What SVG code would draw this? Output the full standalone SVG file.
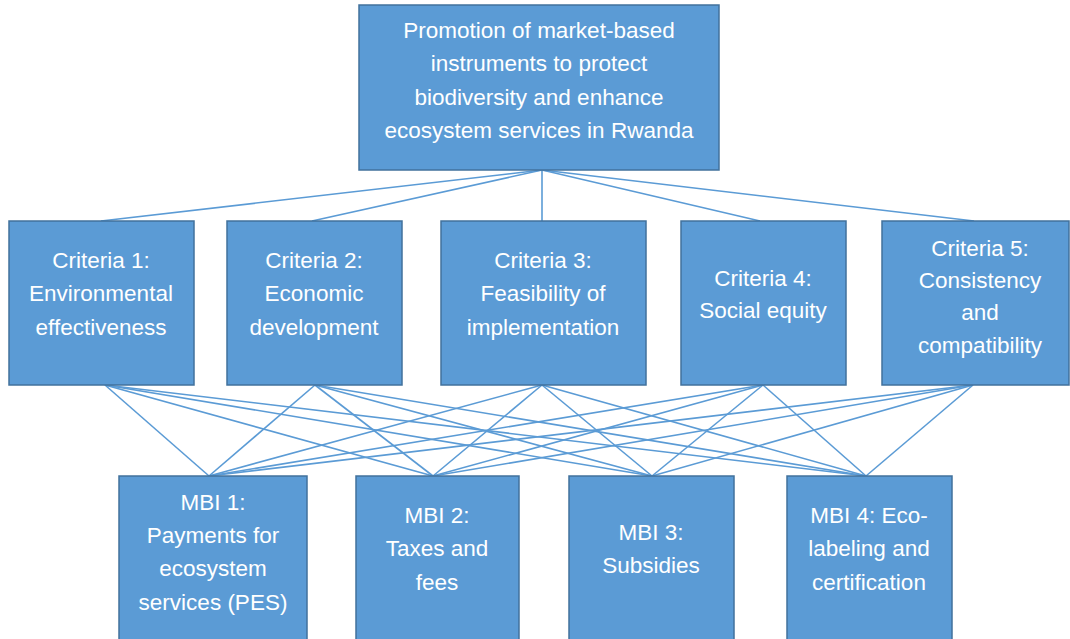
<svg xmlns="http://www.w3.org/2000/svg" width="1070" height="639" viewBox="0 0 1070 639">
<style>
.box{fill:#5b9bd5;stroke:#41719c;stroke-width:1.5}
.t{font-family:"Liberation Sans",Arial,sans-serif;font-size:22.5px;fill:#ffffff;text-anchor:middle}
.c line{stroke:#5b9bd5;stroke-width:1.6}
</style>
<rect width="1070" height="639" fill="#ffffff"/>
<g class="c" id="connectors">
<line x1="542" y1="170" x2="101" y2="221"/>
<line x1="542" y1="170" x2="312" y2="221"/>
<line x1="542" y1="170" x2="542" y2="221"/>
<line x1="542" y1="170" x2="760" y2="221"/>
<line x1="542" y1="170" x2="974" y2="221"/>
<line x1="105" y1="385" x2="209" y2="476"/>
<line x1="105" y1="385" x2="433" y2="476"/>
<line x1="105" y1="385" x2="652" y2="476"/>
<line x1="105" y1="385" x2="866" y2="476"/>
<line x1="315" y1="385" x2="209" y2="476"/>
<line x1="315" y1="385" x2="433" y2="476"/>
<line x1="315" y1="385" x2="652" y2="476"/>
<line x1="315" y1="385" x2="866" y2="476"/>
<line x1="542" y1="385" x2="209" y2="476"/>
<line x1="542" y1="385" x2="433" y2="476"/>
<line x1="542" y1="385" x2="652" y2="476"/>
<line x1="542" y1="385" x2="866" y2="476"/>
<line x1="763" y1="385" x2="209" y2="476"/>
<line x1="763" y1="385" x2="433" y2="476"/>
<line x1="763" y1="385" x2="652" y2="476"/>
<line x1="763" y1="385" x2="866" y2="476"/>
<line x1="973" y1="385" x2="209" y2="476"/>
<line x1="973" y1="385" x2="433" y2="476"/>
<line x1="973" y1="385" x2="652" y2="476"/>
<line x1="973" y1="385" x2="866" y2="476"/>
</g>
<g id="goal">
<rect class="box" x="359" y="5" width="360" height="165"/>
<text class="t" x="539" y="38">Promotion of market-based</text>
<text class="t" x="539" y="71">instruments to protect</text>
<text class="t" x="539" y="105">biodiversity and enhance</text>
<text class="t" x="539" y="138">ecosystem services in Rwanda</text>
</g>
<g id="criteria1">
<rect class="box" x="9" y="221" width="185" height="164"/>
<text class="t" x="101" y="268">Criteria 1:</text>
<text class="t" x="101" y="301">Environmental</text>
<text class="t" x="101" y="335">effectiveness</text>
</g>
<g id="criteria2">
<rect class="box" x="227" y="221" width="175" height="164"/>
<text class="t" x="314" y="268">Criteria 2:</text>
<text class="t" x="314" y="301">Economic</text>
<text class="t" x="314" y="335">development</text>
</g>
<g id="criteria3">
<rect class="box" x="441" y="221" width="205" height="164"/>
<text class="t" x="543" y="268">Criteria 3:</text>
<text class="t" x="543" y="301">Feasibility of</text>
<text class="t" x="543" y="335">implementation</text>
</g>
<g id="criteria4">
<rect class="box" x="681" y="221" width="165" height="164"/>
<text class="t" x="763" y="286">Criteria 4:</text>
<text class="t" x="763" y="318">Social equity</text>
</g>
<g id="criteria5">
<rect class="box" x="882" y="221" width="187" height="164"/>
<text class="t" x="980" y="256">Criteria 5:</text>
<text class="t" x="980" y="288">Consistency</text>
<text class="t" x="980" y="320">and</text>
<text class="t" x="980" y="353">compatibility</text>
</g>
<g id="mbi1">
<rect class="box" x="119" y="476" width="188" height="170"/>
<text class="t" x="213" y="510">MBI 1:</text>
<text class="t" x="213" y="543">Payments for</text>
<text class="t" x="213" y="576">ecosystem</text>
<text class="t" x="213" y="610">services (PES)</text>
</g>
<g id="mbi2">
<rect class="box" x="356" y="476" width="163" height="170"/>
<text class="t" x="437" y="523">MBI 2:</text>
<text class="t" x="437" y="556">Taxes and</text>
<text class="t" x="437" y="590">fees</text>
</g>
<g id="mbi3">
<rect class="box" x="569" y="476" width="165" height="170"/>
<text class="t" x="651" y="540">MBI 3:</text>
<text class="t" x="651" y="573">Subsidies</text>
</g>
<g id="mbi4">
<rect class="box" x="787" y="476" width="165" height="170"/>
<text class="t" x="869" y="523">MBI 4: Eco-</text>
<text class="t" x="869" y="556">labeling and</text>
<text class="t" x="869" y="590">certification</text>
</g>
</svg>
